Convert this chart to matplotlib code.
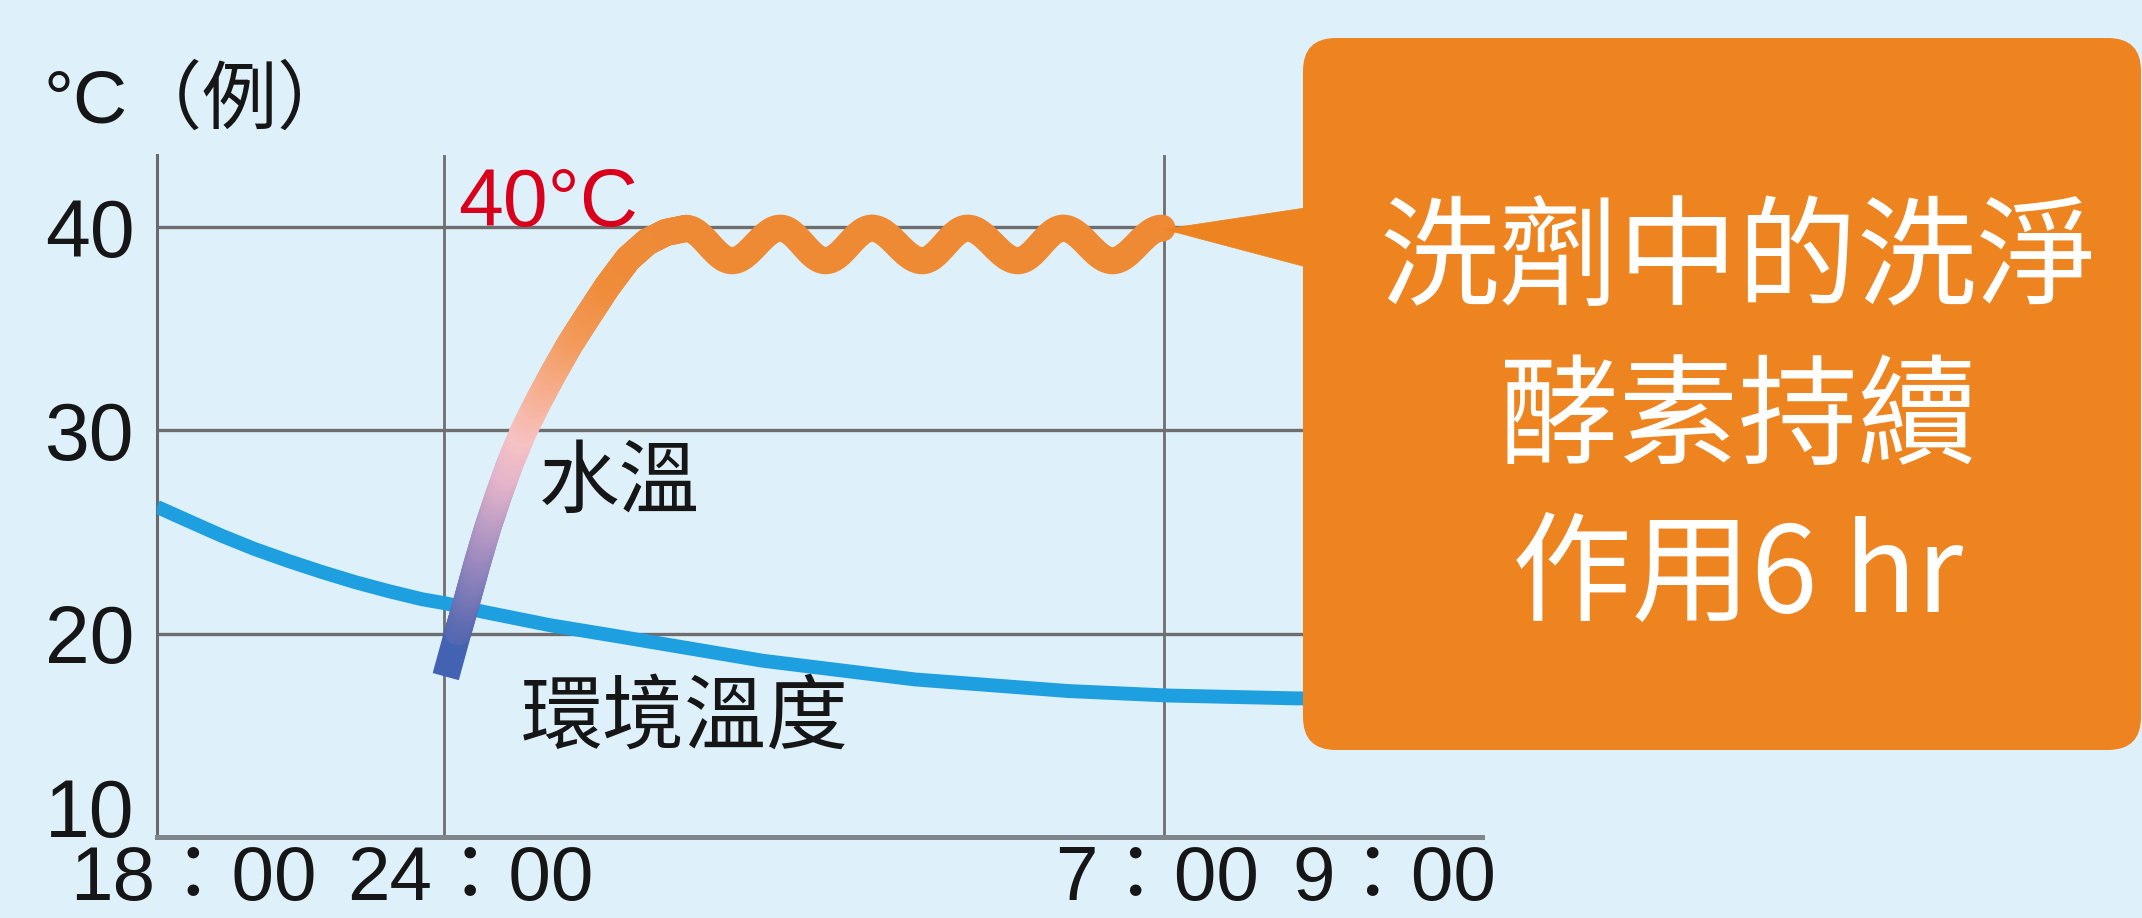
import numpy as np
import matplotlib
matplotlib.use("Agg")
import matplotlib.pyplot as plt
from matplotlib.collections import LineCollection
from matplotlib.colors import LinearSegmentedColormap, Normalize
from matplotlib.patches import FancyBboxPatch, Polygon, PathPatch
from matplotlib.path import Path
from matplotlib.transforms import blended_transform_factory

# ---------------- data ----------------
time_labels = ["18：00", "24：00", "7：00", "9：00"]
time_hours = [0, 6, 13, 15]          # hours after 18:00
grid_hours = [6, 13]                 # vertical reference lines (24:00, 7:00)
y_ticks = [10, 20, 30, 40]
y_tick_labels = ["10", "20", "30", "40"]

ambient_hours = [0, 0.654, 1.353, 2.049, 2.745, 3.443, 4.139, 4.835, 5.534, 6.02,
                 6.38, 7.03, 7.68, 9.10, 10.58, 12.07, 13.04, 14.30, 16.0]
ambient_temp = [26.24, 25.55, 24.82, 24.16, 23.58, 23.04, 22.54, 22.10, 21.70, 21.49,
                21.08, 20.42, 19.88, 18.67, 17.75, 17.18, 16.96, 16.82, 16.75]

water_rise_hours = [6.017, 6.136, 6.233, 6.321, 6.418, 6.525, 6.642, 6.778, 6.919,
                    7.065, 7.225, 7.400, 7.585, 7.789, 7.974, 8.158, 8.353]
water_rise_temp = [17.89, 20.09, 21.81, 23.43, 25.10, 26.73, 28.38, 30.02, 31.45,
                   32.83, 34.25, 35.63, 37.06, 38.44, 39.27, 39.74, 39.94]

water_hold_hours = [8.353, 8.80, 9.27, 9.71, 10.16, 10.65, 11.09, 11.58, 12.02, 12.50, 12.98]
water_hold_temp = [39.94, 38.35, 39.95, 38.35, 39.95, 38.35, 39.95, 38.35, 39.95, 38.35, 39.95]

target_temp = 40
target_label = "40°C"
unit_label = "°C（例）"
water_label = "水溫"
ambient_label = "環境溫度"
callout_lines = ["洗劑中的洗淨", "酵素持續", "作用6 hr"]

# ---------------- style / layout ----------------
W, H, DPI = 2142, 918, 100
BG = "#DEF0FA"
GRID = "#6E6E6E"
AMBIENT = "#1E9FE0"
WAVE = "#EE8A34"
BOX = "#EE8420"
RED = "#D9001B"
INK = "#161616"
WATER_LW = 19.5

plt.rcParams["font.family"] = ["Liberation Sans", "Noto Sans CJK TC", "DejaVu Sans"]

fig = plt.figure(figsize=(W / DPI, H / DPI), dpi=DPI, facecolor=BG)
ax = fig.add_axes([157 / W, 1 - 837 / H, (1482 - 157) / W, (837 - 155) / H])
ax.set_facecolor(BG)

# schematic (piecewise-linear) time axis, as in the original illustration
knot_h = [-2, 0, 6, 13, 15, 18]
knot_px = [157 - 2 * 47.83, 157, 444, 1164, 1367, 1367 + 3 * 101.5]


def fwd(h):
    return np.interp(h, knot_h, knot_px)


def inv(p):
    return np.interp(p, knot_px, knot_h)


ax.set_xscale("function", functions=(fwd, inv))
ax.set_xlim(0, float(inv(1482)))
ax.set_ylim(10, 43.55)

# axes & grid
for s in ["top", "right"]:
    ax.spines[s].set_visible(False)
ax.spines["left"].set(color="#6A6A6A", linewidth=2.2)
ax.spines["bottom"].set(color="#7E858B", linewidth=3.6)
ax.set_xticks([])
ax.set_yticks(y_ticks, y_tick_labels)
ax.tick_params(axis="y", length=0, pad=16, labelsize=58, labelcolor=INK)
ax.get_yticklabels()[0].set_verticalalignment("baseline")
ax.yaxis.grid(True, color=GRID, linewidth=2.4)
ax.set_axisbelow(True)
for h in grid_hours:
    ax.axvline(h, color=GRID, linewidth=2.0, zorder=1)

# ambient temperature
ax.plot(ambient_hours, ambient_temp, color=AMBIENT, lw=10,
        solid_capstyle="butt", solid_joinstyle="round", zorder=3)

# water temperature: rising part with colour gradient
cmap = LinearSegmentedColormap.from_list("water", [
    (0.00, "#2F5BB0"),
    (0.15, "#5E6CB2"),
    (0.30, "#A18CC0"),
    (0.455, "#E4B4CA"),
    (0.54, "#F6C2C4"),
    (0.65, "#F6AE8E"),
    (0.76, "#F39A5A"),
    (0.87, "#EF8C3A"),
    (1.00, WAVE),
])
norm = Normalize(17.5, 40.5)
pts = np.column_stack([water_rise_hours, water_rise_temp])

# bottom segment: flat (butt) end like the original
first_seg = [pts[0:2]]
first_col = [cmap(norm(pts[0:2, 1].mean()))]
ax.add_collection(LineCollection(first_seg, colors=first_col, linewidths=WATER_LW,
                                 capstyle="butt", zorder=4))
# remaining segments split finely only for a smooth colour gradient
n_sub = 12
rest_segs, rest_cols = [], []
for i in range(1, len(pts) - 1):
    t = np.linspace(0, 1, n_sub + 1)[:, None]
    sub = pts[i] + (pts[i + 1] - pts[i]) * t
    for j in range(n_sub):
        seg = sub[j:j + 2]
        rest_segs.append(seg)
        rest_cols.append(cmap(norm(seg[:, 1].mean())))
ax.add_collection(LineCollection(rest_segs, colors=rest_cols, linewidths=WATER_LW,
                                 capstyle="round", zorder=4))

# water temperature: held around 40 °C (smooth wave through read peaks/troughs)
k = 0.3642
verts = [(water_hold_hours[0], water_hold_temp[0])]
codes = [Path.MOVETO]
for i in range(len(water_hold_hours) - 1):
    x0, x1 = water_hold_hours[i], water_hold_hours[i + 1]
    y0, y1 = water_hold_temp[i], water_hold_temp[i + 1]
    dx = x1 - x0
    verts += [(x0 + k * dx, y0), (x1 - k * dx, y1), (x1, y1)]
    codes += [Path.CURVE4] * 3
ax.add_patch(PathPatch(Path(verts, codes), facecolor="none", edgecolor=WAVE,
                       lw=WATER_LW, capstyle="round", joinstyle="round", zorder=4))

# labels inside plot
ax.text(7.70, 26.23, water_label, fontsize=58, ha="center", va="baseline",
        color=INK, zorder=5)
ax.text(8.34, 14.62, ambient_label, fontsize=59, ha="center", va="baseline",
        color=INK, zorder=5)
ax.annotate(target_label, xy=(grid_hours[0], target_temp), xytext=(10, 1),
            textcoords="offset points", color=RED, fontsize=58,
            ha="left", va="baseline", zorder=5)

# time labels under the axis
trans = blended_transform_factory(ax.transData, ax.transAxes)
time_label_dx = [26, 18.7, -5, 19.4]   # points
for h, lab, dx in zip(time_hours, time_labels, time_label_dx):
    ax.annotate(lab, xy=(h, 0), xycoords=trans, xytext=(dx, -45.5),
                textcoords="offset points", ha="center", va="baseline",
                fontsize=55, color=INK, annotation_clip=False)

# unit label
fig.text(44 / W, 1 - 123 / H, unit_label, fontsize=54, ha="left",
         va="baseline", color=INK)

# callout box with pointer towards the end of the 40 °C plateau
box = FancyBboxPatch((1303 / DPI, (H - 750) / DPI), (2141 - 1303) / DPI,
                     (750 - 38) / DPI,
                     boxstyle="round,pad=0,rounding_size=0.33",
                     transform=fig.dpi_scale_trans, facecolor=BOX,
                     edgecolor="none", zorder=6)
fig.add_artist(box)
tip = ax.transData.transform((13.0, 39.9)) / DPI
tri = Polygon([tuple(tip), (1325 / DPI, (H - 205) / DPI), (1325 / DPI, (H - 272) / DPI)],
              closed=True, fill=True, transform=fig.dpi_scale_trans,
              facecolor=BOX, edgecolor=BOX, linewidth=0.5, zorder=6)
fig.add_artist(tri)

baselines = [296, 455, 612]
for line, yb in zip(callout_lines, baselines):
    fig.text(1738 / W, 1 - yb / H, line, fontsize=86, ha="center",
             va="baseline", color="white", zorder=7,
             family=["Noto Sans CJK TC", "DejaVu Sans"])

fig.savefig("out.png", dpi=DPI, facecolor=BG)
